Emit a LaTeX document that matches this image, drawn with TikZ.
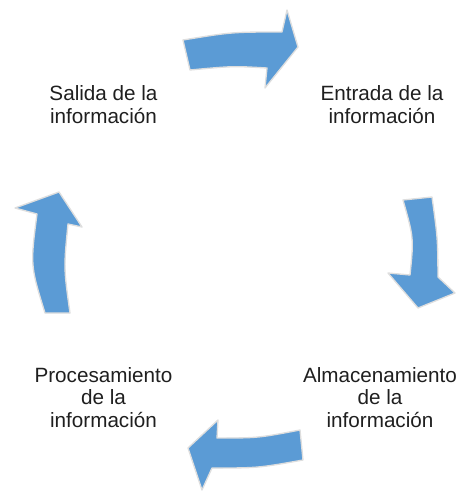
\documentclass[tikz,border=0pt]{standalone}
\usepackage{fontspec}
\setmainfont{Liberation Sans}
\definecolor{cycleblue}{RGB}{91,155,213}
\begin{document}
\begin{tikzpicture}[x=0.75pt,y=-0.75pt,
    cyclearrow/.style={fill=cycleblue,draw=black!13,line width=1pt,line join=round},
    stagetext/.style={align=center,inner sep=0pt,text=black!88,font=\fontsize{15.5}{17}\selectfont}]

\useasboundingbox (0,0) rectangle (460,493);

% Stages of the cycle
\node[stagetext] (entrada) at (382,104.5) {Entrada de la\\información};
\node[stagetext] (almacen) at (380,397.5) {Almacenamiento\\de la\\información};
\node[stagetext] (proceso) at (103.5,397.5) {Procesamiento\\de la\\información};
\node[stagetext] (salida) at (103.5,104.5) {Salida de la\\información};

% Top arrow (salida -> entrada)
\filldraw[cyclearrow] (183,40) .. controls (232,32) .. (282,32) -- (287,10) -- (298,47)
    -- (265,88) -- (267,68) .. controls (233,66) .. (190,70) -- cycle;

% Right arrow (entrada -> almacenamiento)
\filldraw[cyclearrow] (432,197) .. controls (437.7,238) .. (438,277) -- (455,293) -- (418,308)
    -- (388,273) -- (410,275) .. controls (413.8,238) .. (403,200) -- cycle;

% Bottom arrow (almacenamiento -> procesamiento)
\filldraw[cyclearrow] (303,460) .. controls (258,468) .. (212,468) -- (202,490) -- (188,448)
    -- (218,420) -- (217,438) .. controls (258,438) .. (300,430) -- cycle;

% Left arrow (procesamiento -> salida)
\filldraw[cyclearrow] (70,313) .. controls (63.7,268) .. (68,224) -- (82,227) -- (59,192)
    -- (15,208) -- (37,214) .. controls (30.3,265.5) .. (45,313) -- cycle;

\end{tikzpicture}
\end{document}
